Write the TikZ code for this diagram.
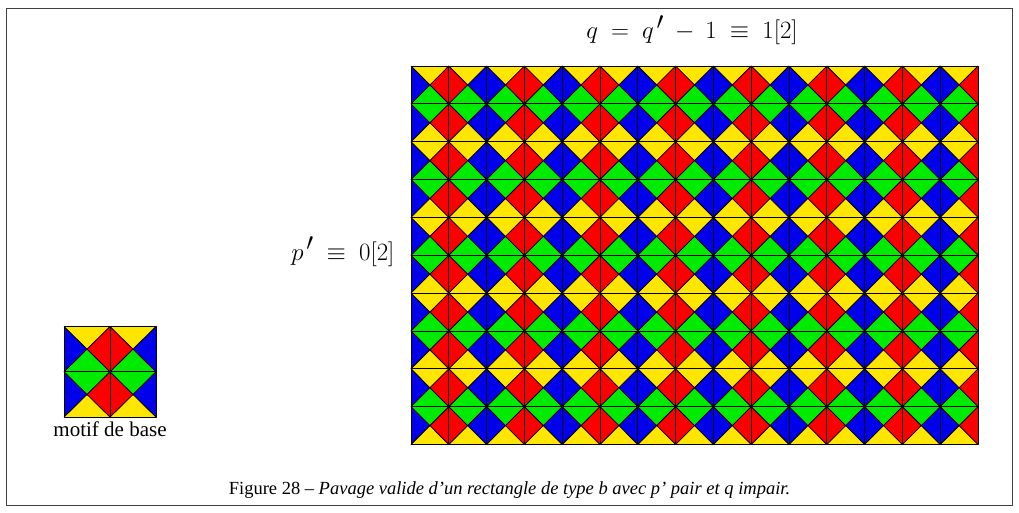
\documentclass[tikz,border=0pt]{standalone}
\usepackage{fontspec}
\setmainfont{Liberation Serif}
\definecolor{ty}{RGB}{255,230,0}
\definecolor{tr}{RGB}{250,0,0}
\definecolor{tg}{RGB}{0,235,0}
\definecolor{tb}{RGB}{0,0,235}
\tikzset{
  tileline/.style={black, line width=0.8pt, line join=round},
  framebox/.style={draw=black!75, line width=0.9pt},
  bigmath/.style={font=\fontsize{33}{38}\selectfont},
  captext/.style={font=\fontsize{18.5}{22}\selectfont},
  smalltext/.style={font=\fontsize{21}{25}\selectfont}
}
\newcommand\primemark{^{\mkern2mu\scriptstyle\prime}}
% #1 x0, #2 y0, #3 ncols, #4 nrows, #5 cell width, #6 cell height
\newcommand\wangtiling[6]{%
  \foreach \i in {1,...,#3} {
    \foreach \j in {1,...,#4} {
      \pgfmathsetmacro\xa{#1+(\i-1)*#5}
      \pgfmathsetmacro\ya{#2+(\j-1)*#6}
      \pgfmathsetmacro\xb{\xa+#5}
      \pgfmathsetmacro\yb{\ya+#6}
      \pgfmathsetmacro\xc{\xa+#5/2}
      \pgfmathsetmacro\yc{\ya+#6/2}
      \ifodd\i \def\colL{tb}\def\colR{tr}\else\def\colL{tr}\def\colR{tb}\fi
      \ifodd\j \def\colT{ty}\def\colB{tg}\else\def\colT{tg}\def\colB{ty}\fi
      \fill[\colT] (\xa,\ya) -- (\xb,\ya) -- (\xc,\yc) -- cycle;
      \fill[\colB] (\xa,\yb) -- (\xb,\yb) -- (\xc,\yc) -- cycle;
      \fill[\colL] (\xa,\ya) -- (\xa,\yb) -- (\xc,\yc) -- cycle;
      \fill[\colR] (\xb,\ya) -- (\xb,\yb) -- (\xc,\yc) -- cycle;
    }
  }
  \foreach \i in {1,...,#3} {
    \foreach \j in {1,...,#4} {
      \pgfmathsetmacro\xa{#1+(\i-1)*#5}
      \pgfmathsetmacro\ya{#2+(\j-1)*#6}
      \pgfmathsetmacro\xb{\xa+#5}
      \pgfmathsetmacro\yb{\ya+#6}
      \draw[tileline] (\xa,\ya) -- (\xb,\yb) (\xb,\ya) -- (\xa,\yb);
      \draw[tileline] (\xa,\ya) rectangle (\xb,\yb);
    }
  }
}
\begin{document}
\begin{tikzpicture}[x=1pt,y=-1pt]
\useasboundingbox (0,0) rectangle (1019,512);
\draw[framebox] (6,8) rectangle (1012,505);
% big tiling
\wangtiling{411}{66}{15}{10}{37.8}{37.85}
% base motif
\wangtiling{64}{326.5}{2}{2}{46}{45.3}
\node[bigmath, anchor=base] (qlab) at (692,38.5) {\thickmuskip=9.5mu\medmuskip=8mu$q = q\primemark - 1 \equiv 1[2]$};
\node[bigmath, anchor=base east] (plab) at (398,260) {\thickmuskip=9.5mu$p\primemark \equiv 0[2]$};
\node[smalltext, anchor=base] (motif) at (110,436) {motif de base};
\node[captext, anchor=base] (caption) at (509.5,494) {Figure 28 -- \textit{Pavage valide d'un rectangle de type b avec p' pair et q impair.}};
\end{tikzpicture}
\end{document}
